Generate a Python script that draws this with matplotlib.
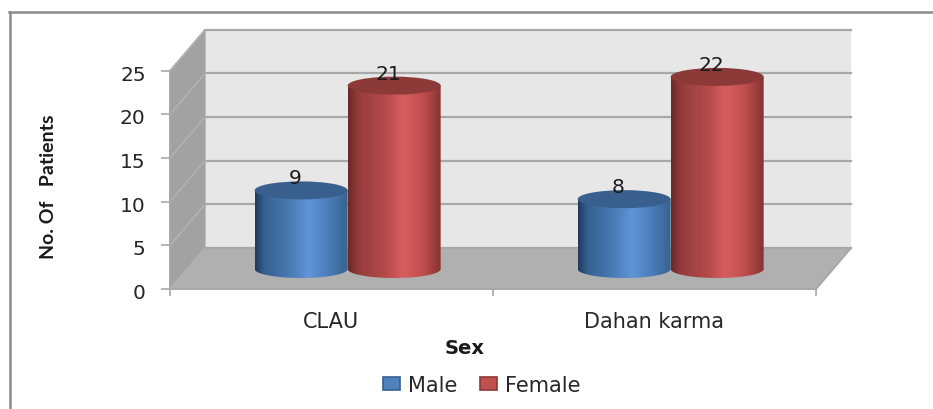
import numpy as np
import matplotlib
matplotlib.use("Agg")
import matplotlib.pyplot as plt
from matplotlib.colors import LinearSegmentedColormap
from matplotlib.lines import Line2D
from matplotlib.patches import Ellipse, PathPatch, Patch, Polygon
from matplotlib.path import Path
from matplotlib.transforms import ScaledTranslation

categories = ["CLAU", "Dahan karma"]
series_names = ["Male", "Female"]
male_values = [9, 8]
female_values = [21, 22]
y_ticks = [0, 5, 10, 15, 20, 25]
x_label = "Sex"
y_label = "No. Of   Patients"

W, H = 933, 410
fig = plt.figure(figsize=(W / 100, H / 100), dpi=100, facecolor="white")

# Frame of the chart area
fig.add_artist(Line2D([9.5 / W, 9.5 / W], [0, 1 - 13 / H], color="#8c8c8c", lw=1.8))
fig.add_artist(Line2D([9 / W, 1], [1 - 13 / H, 1 - 13 / H], color="#8c8c8c", lw=1.8))

ax_l, ax_r, ax_b, ax_t = 170, 816, 290, 71.7
ax = fig.add_axes([ax_l / W, 1 - ax_b / H, (ax_r - ax_l) / W, (ax_b - ax_t) / H])
ax.set_xlim(0, 2)
ax.set_ylim(0, 25)
ax.patch.set_visible(False)
px = 2 / (ax_r - ax_l)
py = 25 / (ax_b - ax_t)
dx, dy = 35 * px, 41 * py

grey = "#a8a8a8"
# Walls
ax.add_patch(Polygon([(dx, dy), (2 + dx, dy), (2 + dx, 25 + dy), (dx, 25 + dy)],
                     fc="#e7e7e7", ec="none", clip_on=False, zorder=1))
ax.add_patch(Polygon([(0, 0), (dx, dy), (dx, 25 + dy), (0, 25)],
                     fc="#a2a2a2", ec=grey, lw=1, clip_on=False, zorder=1))
ax.add_patch(Polygon([(0, 0), (2, 0), (2 + dx, dy), (dx, dy)],
                     fc="#b0b0b0", ec=grey, lw=1.4, clip_on=False, zorder=1))
for t in y_ticks:
    ax.plot([0, dx], [t, t + dy], color="#b4b4b4", lw=1, clip_on=False, zorder=2)
    ax.plot([dx, 2 + dx], [t + dy, t + dy], color=grey, lw=1.6, clip_on=False, zorder=2)

blue_cmap = LinearSegmentedColormap.from_list("b", [
    (0, "#1f3a5e"), (0.1, "#35608f"), (0.4, "#4b7db8"), (0.58, "#6095d8"),
    (0.8, "#4a7cb8"), (1, "#38628f")])
red_cmap = LinearSegmentedColormap.from_list("r", [
    (0, "#6a2828"), (0.1, "#933b3b"), (0.4, "#b54a4a"), (0.58, "#d85e5e"),
    (0.8, "#c04e4e"), (1, "#843232")])
grad = np.linspace(0, 1, 256)[None, :]

bar_w = 93 * px
base = 20 * py
ry = 9 * py
centers = np.arange(len(categories)) + 0.5 + 0.05


def cylinder(xc, value, cmap, top_col, z):
    x0, x1 = xc - bar_w / 2, xc + bar_w / 2
    top = base + value
    t = np.linspace(np.pi, 2 * np.pi, 60)
    xs = xc + bar_w / 2 * np.cos(t)
    ys = base + ry * np.sin(t)
    verts = [(x0, top)] + list(zip(xs, ys)) + [(x1, top), (x0, top)]
    body = PathPatch(Path(verts), fc="none", ec="none", transform=ax.transData)
    ax.add_patch(body)
    im = ax.imshow(grad, extent=[x0, x1, base - ry, top], cmap=cmap, aspect="auto",
                   zorder=z, clip_on=True)
    im.set_clip_path(body)
    ax.add_patch(Ellipse((xc, top), bar_w, 2 * ry, fc=top_col, ec="none",
                         clip_on=False, zorder=z + 0.1))
    ax.text(xc - 6 * px, top + 12.5 * py, str(value), ha="center", va="center",
            fontsize=14.5, color="#1a1a1a", zorder=z + 0.2)


for i, xc in enumerate(centers):
    cylinder(xc - bar_w / 2, male_values[i], blue_cmap, "#395f8e", 3)
    cylinder(xc + bar_w / 2, female_values[i], red_cmap, "#8b3a38", 4)
ax.set_xlim(0, 2)
ax.set_ylim(0, 25)

# Axes
for s in ("top", "right"):
    ax.spines[s].set_visible(False)
for s in ("left", "bottom"):
    ax.spines[s].set_color(grey)
    ax.spines[s].set_linewidth(1.4)
    ax.spines[s].set_zorder(2.5)
ax.set_yticks(y_ticks)
ax.set_xticks([0, 1, 2])
ax.set_xticklabels([])
ax.set_xticks([0.5, 1.5], labels=categories, minor=True)
ax.tick_params(axis="x", which="major", length=5, width=1.2, color=grey)
ax.tick_params(axis="x", which="minor", length=0, pad=16, labelsize=15, labelcolor="#262626")
ax.tick_params(axis="y", length=6.5, width=1.2, color=grey, pad=11, labelsize=14.5, labelcolor="#262626")
shift = ScaledTranslation(0, -1.5 / 100, fig.dpi_scale_trans)
for lab in ax.get_yticklabels():
    lab.set_transform(lab.get_transform() + shift)

fig.text(465 / W, 1 - 349 / H, x_label, ha="center", va="center", fontsize=14,
         fontweight="bold", color="#1a1a1a")
fig.text(49 / W, 1 - 187 / H, y_label, ha="center", va="center", rotation=90, fontsize=14,
         fontweight="bold", family=["Lato", "DejaVu Sans"], color="#1a1a1a")

handles = [Patch(fc="#4f81bd", ec="#35608f", lw=1.2), Patch(fc="#c0504d", ec="#8b3a38", lw=1.2)]
fig.legend(handles, series_names, loc="center", bbox_to_anchor=(482 / W, 1 - 386 / H),
           ncol=2, frameon=False, fontsize=15, labelcolor="#262626",
           handlelength=0.8, handleheight=0.6, handletextpad=0.4, columnspacing=1.1)

fig.savefig("out.png", dpi=100)
